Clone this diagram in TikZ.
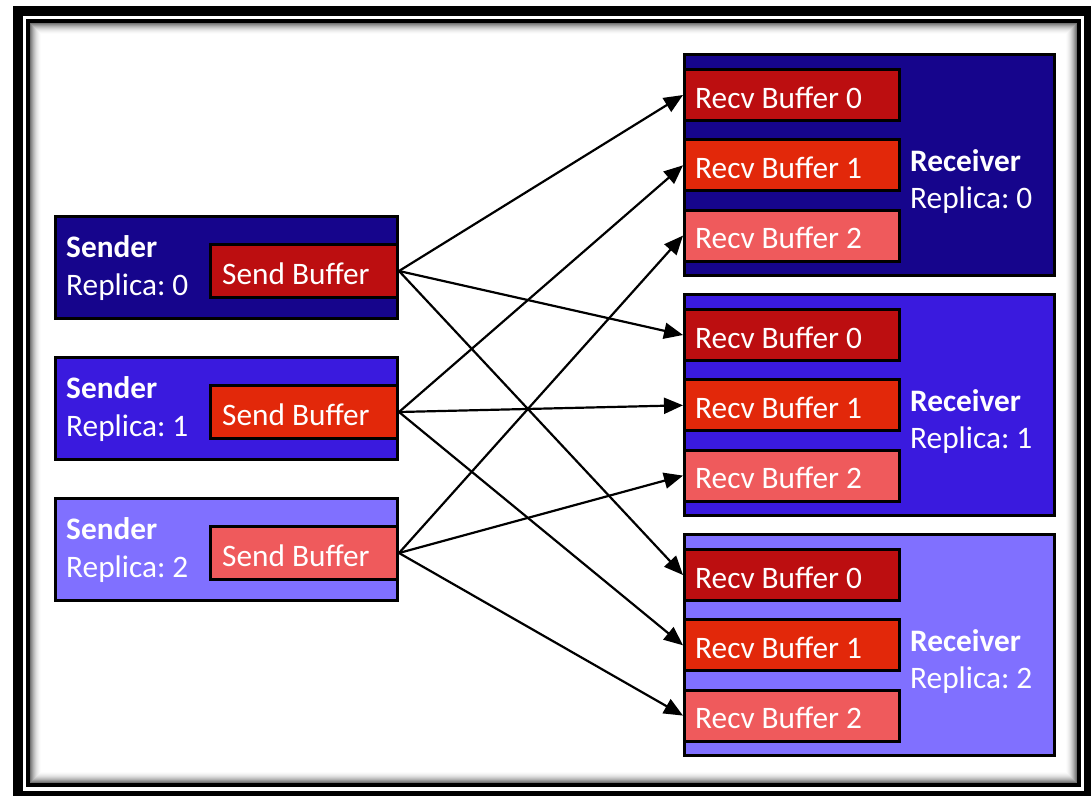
\documentclass[tikz,border=0pt]{standalone}
\usepackage{fontspec}
\setmainfont{Carlito}
\usetikzlibrary{arrows.meta}
\frenchspacing

\definecolor{navyA}{RGB}{22,5,140}
\definecolor{navyB}{RGB}{58,26,222}
\definecolor{navyC}{RGB}{128,112,255}
\definecolor{redA}{RGB}{188,14,16}
\definecolor{redB}{RGB}{226,40,10}
\definecolor{redC}{RGB}{239,90,92}

\tikzset{
  boxstyle/.style={rectangle, draw=black, line width=3pt, inner sep=0pt},
  txt/.style={text=white, anchor=base west, inner sep=0pt, font=\fontsize{31.3}{36}\selectfont},
  boldtxt/.style={txt, font=\fontsize{31.3}{36}\selectfont\bfseries},
  conn/.style={line width=2.2pt, -{Triangle[length=19pt,width=16pt]}},
}

\begin{document}
\begin{tikzpicture}[x=1pt,y=-1pt]
\useasboundingbox (0,0) rectangle (1091,796);

% double frame with an inner shadow
\fill[black] (13,6) rectangle (1091,796);
\fill[white] (23,16) rectangle (1084,791);
\fill[black] (26,19) rectangle (1081,787);
\fill[white] (30,23) rectangle (1077,783);
\foreach \i in {0,...,11} {
  \pgfmathtruncatemacro\g{55*(12-\i)*(12-\i)/144}
  \draw[black!\g, line width=1pt] (30.5+\i,23.5+\i) rectangle (1076.5-\i,782.5-\i);
}

% senders
\foreach \k/\fc/\bc in {0/navyA/redA,1/navyB/redB,2/navyC/redC} {
  \node[boxstyle, fill=\fc, minimum width=342, minimum height=102] (s\k) at (226.5,267.5+141*\k) {};
  \node[boxstyle, fill=\bc, minimum width=187, minimum height=53] (sb\k) at (304,271+141*\k) {};
  \node[txt] (sbt\k) at (222,284+141*\k) {Send Buffer};
  \node[boldtxt] (sn\k) at (66,257+141*\k) {Sender};
  \node[txt] (sr\k) at (66,295+141*\k) {Replica: \k};
}

% receivers
\foreach \k/\fc in {0/navyA,1/navyB,2/navyC} {
  \node[boxstyle, fill=\fc, minimum width=370, minimum height=221] (r\k) at (869.5,165+240*\k) {};
  \node[boldtxt] (rn\k) at (910,171+240*\k) {Receiver};
  \node[txt] (rr\k) at (910,208+240*\k) {Replica: \k};
  \foreach \j/\bc in {0/redA,1/redB,2/redC} {
    \node[boxstyle, fill=\bc, minimum width=215, minimum height=51] (rb\k\j) at (792,95+240*\k+70.3*\j) {};
    \node[txt] (rbt\k\j) at (695,108+240*\k+70.3*\j) {Recv Buffer \j};
  }
}

% every sender feeds its own buffer in every receiver
\foreach \s in {0,1,2} {
  \foreach \r in {0,1,2} {
    \draw[conn] (sb\s.east) -- (rb\r\s.west);
  }
}
\end{tikzpicture}
\end{document}
